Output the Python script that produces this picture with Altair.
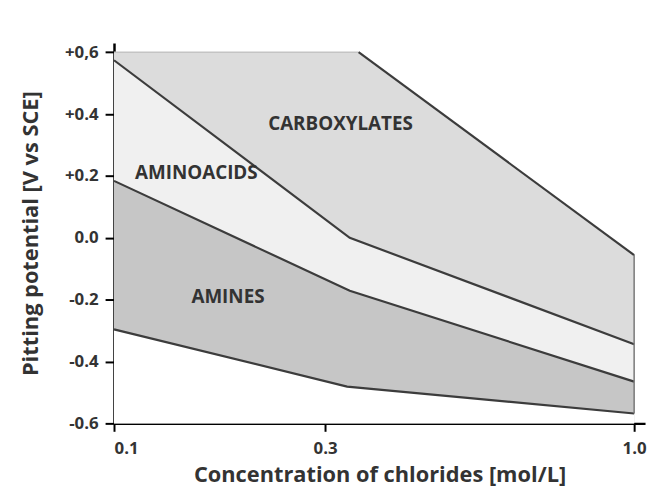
import altair as alt
import pandas as pd

# Boundary lines (x = chloride concentration [mol/L], y = pitting potential [V vs SCE])
carbox_top_x = [0.1, 0.376, 1.0]
carbox_top_y = [0.6, 0.6, -0.056]
upper_x = [0.1, 0.356, 1.0]
upper_y = [0.574, 0.0, -0.344]
lower_x = [0.1, 0.356, 1.0]
lower_y = [0.184, -0.171, -0.465]
bottom_x = [0.1, 0.35, 1.0]
bottom_y = [-0.296, -0.481, -0.568]

region_names = ["CARBOXYLATES", "AMINOACIDS", "AMINES"]
label_x = [0.335, 0.178, 0.208]
label_y = [0.369, 0.21, -0.19]

x_ticks = [0.1, 0.3, 1.0]
x_tick_labels = ["0.1", "0.3", "1.0"]
y_ticks = [0.6, 0.4, 0.2, 0.0, -0.2, -0.4, -0.6]
y_tick_labels = ["+0,6", "+0.4", "+0.2", "0.0", "-0.2", "-0.4", "-0.6"]

FONT = "Open Sans"
INK = "#333333"
LINE = "#3c3c3c"


def table(xs, ys):
    return pd.DataFrame({"x": xs, "y": ys})


def label_expr(vals, labels):
    expr = "''"
    for v, l in reversed(list(zip(vals, labels))):
        expr = f"abs(datum.value - ({v})) < 1e-6 ? '{l}' : ({expr})"
    return expr


xscale = alt.Scale(domain=[0.1, 0.3, 1.0, 1.03], range=[0, 213, 525, 536], nice=False, zero=False)
yscale = alt.Scale(domain=[-0.6, 0.63], nice=False, zero=False)

xenc = alt.X("x:Q", scale=xscale, title="Concentration of chlorides [mol/L]",
             axis=alt.Axis(values=x_ticks, labelExpr=label_expr(x_ticks, x_tick_labels),
                           grid=False, domainColor="black", domainWidth=2.5,
                           tickColor="black", tickWidth=2, tickSize=8,
                           labelFont=FONT, labelFontSize=17, labelFontWeight="bold", labelColor=INK,
                           labelPadding=9, titleFont=FONT, titleFontSize=22, titleFontWeight="bold",
                           titleColor=INK, titlePadding=9))
yenc = alt.Y("y:Q", scale=yscale, title="Pitting potential [V vs SCE]",
             axis=alt.Axis(values=y_ticks, labelExpr=label_expr(y_ticks, y_tick_labels),
                           grid=False, domainColor="black", domainWidth=2.5,
                           tickColor="black", tickWidth=2, tickSize=9,
                           labelFont=FONT, labelFontSize=17, labelFontWeight="bold", labelColor=INK,
                           labelPadding=7, titleFont=FONT, titleFontSize=22, titleFontWeight="bold",
                           titleColor=INK, titlePadding=22))


def area(xs, ys, color):
    return alt.Chart(table(xs, ys)).mark_area(color=color, opacity=1, interpolate="linear").encode(
        x=alt.X("x:Q", scale=xscale), y=alt.Y("y:Q", scale=yscale), y2=alt.datum(-0.6))


def line(xs, ys, color=LINE, width=2.2):
    return alt.Chart(table(xs, ys)).mark_line(color=color, strokeWidth=width).encode(
        x=alt.X("x:Q", scale=xscale), y=alt.Y("y:Q", scale=yscale))


axes = alt.Chart(table(carbox_top_x, carbox_top_y)).mark_point(opacity=0).encode(x=xenc, y=yenc)

right_edge = alt.Chart(pd.DataFrame({"x": [1.0], "y": [carbox_top_y[-1]], "y2": [bottom_y[-1]]})).mark_rule(
    color="#777777", strokeWidth=1.5).encode(
    x=alt.X("x:Q", scale=xscale), y=alt.Y("y:Q", scale=yscale), y2="y2:Q")

labels = alt.Chart(pd.DataFrame({"name": region_names, "x": label_x, "y": label_y})).mark_text(
    font=FONT, fontSize=19, fontWeight="bold", color=INK).encode(
    x=alt.X("x:Q", scale=xscale), y=alt.Y("y:Q", scale=yscale), text="name:N")

chart = alt.layer(
    axes,
    area(carbox_top_x, carbox_top_y, "#dcdcdc"),
    area(upper_x, upper_y, "#f0f0f0"),
    area(lower_x, lower_y, "#c6c6c6"),
    area(bottom_x, bottom_y, "#ffffff"),
    line(carbox_top_x[:2], carbox_top_y[:2], color="#c4c4c4", width=1.5),
    line(carbox_top_x[1:], carbox_top_y[1:]),
    line(upper_x, upper_y),
    line(lower_x, lower_y),
    line(bottom_x, bottom_y),
    right_edge,
    labels,
).properties(
    width=536, height=384,
    autosize=alt.AutoSizeParams(type="none"),
    padding={"left": 107, "top": 33, "right": 4, "bottom": 66},
).configure_view(stroke=None)

chart.save("out.html", embed_options={"renderer": "svg", "actions": False})
